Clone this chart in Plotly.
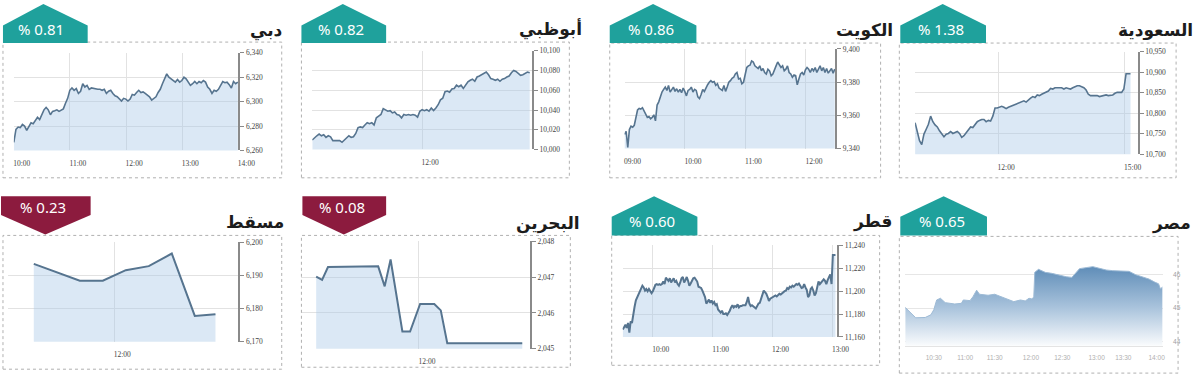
import plotly.graph_objects as go
import numpy as np

W, H = 1200, 382

# ---------------- DATA ----------------
# Dubai
dubai_values = [6266.7, 6277.3, 6279.2, 6278.7, 6281.3, 6280.0, 6276.5, 6279.2, 6282.7, 6281.9, 6284.5, 6287.2,
                6285.3, 6289.3, 6293.3, 6295.2, 6293.3, 6289.3, 6292.0, 6292.5, 6293.3, 6292.0, 6293.3, 6294.1,
                6298.7, 6302.7, 6309.3, 6311.2, 6309.3, 6310.7, 6306.7, 6308.5, 6314.7, 6312.0, 6313.3, 6310.1,
                6311.2, 6310.7, 6310.1, 6310.1, 6310.1, 6309.3, 6310.1, 6306.7, 6308.5, 6309.3, 6306.7, 6304.8,
                6304.0, 6302.1, 6300.5, 6302.7, 6302.1, 6300.5, 6302.1, 6305.9, 6305.3, 6307.5, 6309.3, 6307.5,
                6308.0, 6306.7, 6305.3, 6304.0, 6301.3, 6302.7, 6304.0, 6307.5, 6310.1, 6314.7, 6318.1, 6322.7,
                6320.0, 6318.7, 6317.3, 6316.0, 6318.1, 6316.0, 6317.3, 6320.0, 6318.7, 6316.0, 6313.3, 6314.7,
                6316.5, 6314.7, 6316.5, 6315.5, 6317.3, 6316.0, 6312.0, 6310.1, 6306.7, 6309.3, 6308.5, 6310.1,
                6313.3, 6316.5, 6315.5, 6316.0, 6313.9, 6311.2, 6316.5, 6314.7, 6316.0]
dubai_span = (10.0, 13.99)
dubai_xticks = [10, 11, 12, 13, 14]
dubai_xlabels = ["10:00", "11:00", "12:00", "13:00", "14:00"]
dubai_yticks = [6260, 6280, 6300, 6320, 6340]

# Abu Dhabi
abudhabi_values = [10009.6, 10012.3, 10013.9, 10015.6, 10013.9, 10014.9, 10012.3, 10013.9, 10012.9, 10009.0,
                   10009.0, 10008.3, 10009.0, 10007.3, 10009.6, 10012.3, 10013.9, 10012.3, 10012.9, 10016.3,
                   10022.2, 10022.9, 10022.2, 10024.9, 10027.2, 10026.2, 10027.2, 10024.9, 10032.1, 10033.8,
                   10035.5, 10041.4, 10040.4, 10038.8, 10039.4, 10037.1, 10038.1, 10035.5, 10034.8, 10032.1,
                   10035.5, 10034.8, 10035.5, 10034.8, 10035.5, 10034.8, 10032.8, 10038.8, 10040.4, 10039.4,
                   10040.4, 10038.8, 10042.1, 10039.4, 10042.1, 10045.4, 10050.3, 10052.0, 10058.6, 10059.3,
                   10058.0, 10061.3, 10061.9, 10065.2, 10063.6, 10065.2, 10061.9, 10065.9, 10068.6, 10070.2,
                   10071.2, 10069.2, 10073.5, 10074.5, 10075.8, 10076.8, 10078.5, 10075.8, 10071.9, 10071.2,
                   10070.2, 10071.2, 10069.2, 10071.2, 10071.9, 10073.5, 10074.5, 10077.8, 10080.1, 10079.1,
                   10076.8, 10075.2, 10075.8, 10076.8, 10078.5, 10077.8]
abudhabi_span = (10.0, 13.96)
abudhabi_xticks = [12]
abudhabi_xlabels = ["12:00"]
abudhabi_yticks = [10000, 10020, 10040, 10060, 10080, 10100]

# Kuwait
kuwait_values = [9348.5, 9350.4, 9340.6, 9351.4, 9353.4, 9352.8, 9354.0, 9358.3, 9363.2, 9364.2, 9363.8, 9364.6,
                 9362.6, 9360.7, 9358.7, 9359.3, 9357.9, 9358.7, 9360.3, 9356.7, 9366.2, 9368.1, 9371.1, 9374.0,
                 9375.6, 9377.0, 9375.0, 9378.0, 9374.0, 9375.6, 9377.0, 9374.4, 9376.0, 9374.0, 9375.6, 9373.6,
                 9376.4, 9374.4, 9371.7, 9375.0, 9375.6, 9377.0, 9374.0, 9375.6, 9375.0, 9371.1, 9370.1, 9372.5,
                 9375.6, 9374.4, 9377.0, 9378.4, 9379.9, 9380.9, 9379.9, 9380.3, 9378.0, 9379.0, 9376.4, 9375.6,
                 9375.0, 9378.0, 9374.4, 9377.0, 9379.9, 9380.9, 9382.3, 9382.9, 9384.9, 9385.8, 9381.9, 9382.3,
                 9379.0, 9379.9, 9383.9, 9388.8, 9389.8, 9390.2, 9392.7, 9392.1, 9389.8, 9388.8, 9388.2, 9389.8,
                 9386.8, 9388.2, 9385.8, 9384.9, 9387.8, 9386.8, 9383.9, 9384.9, 9387.8, 9389.8, 9392.1, 9390.8,
                 9388.8, 9389.8, 9386.8, 9387.8, 9389.8, 9385.8, 9384.9, 9382.9, 9384.3, 9383.9, 9378.4, 9381.9,
                 9384.9, 9385.8, 9384.3, 9387.4, 9388.8, 9387.8, 9385.8, 9388.2, 9386.8, 9388.8, 9385.8, 9387.8,
                 9389.8, 9386.8, 9388.8, 9385.8, 9388.2, 9385.4, 9386.8, 9388.2, 9385.4, 9387.8]
kuwait_span = (9.0, 12.476)
kuwait_xticks = [9, 10, 11, 12]
kuwait_xlabels = ["09:00", "10:00", "11:00", "12:00"]
kuwait_yticks = [9340, 9360, 9380, 9400]

# Saudi
saudi_values = [10777.3, 10757.4, 10733.5, 10723.9, 10749.4, 10761.3, 10773.3, 10793.2, 10779.7, 10771.7,
                10766.9, 10757.4, 10749.4, 10743.0, 10749.4, 10751.0, 10755.8, 10751.0, 10753.4, 10755.8,
                10751.0, 10741.4, 10745.4, 10753.4, 10761.3, 10766.9, 10765.3, 10771.7, 10779.7, 10782.8,
                10785.2, 10785.2, 10779.7, 10782.8, 10781.2, 10793.2, 10813.1, 10813.1, 10814.7, 10817.1,
                10814.7, 10811.5, 10814.7, 10817.1, 10819.5, 10821.0, 10822.6, 10825.0, 10829.0, 10830.6,
                10827.4, 10833.0, 10837.0, 10840.9, 10838.6, 10844.9, 10843.3, 10846.5, 10848.9, 10851.3,
                10854.5, 10860.8, 10859.3, 10862.4, 10862.4, 10860.8, 10862.4, 10859.3, 10862.4, 10860.8,
                10859.3, 10862.4, 10864.8, 10867.2, 10867.2, 10864.8, 10862.4, 10856.9, 10846.5, 10843.3,
                10843.3, 10842.5, 10843.3, 10840.9, 10842.5, 10843.3, 10844.9, 10843.3, 10843.3, 10844.9,
                10848.9, 10851.3, 10851.3, 10851.3, 10859.3, 10896.7, 10896.7, 10896.7]
saudi_span = (10.03, 15.14)
saudi_xticks = [12, 15]
saudi_xlabels = ["12:00", "15:00"]
saudi_yticks = [10700, 10750, 10800, 10850, 10900, 10950]

# Muscat
muscat_times = [10.25, 11.25, 11.75, 12.25, 12.75, 13.25, 13.75, 14.2]
muscat_values = [6193.5, 6188.4, 6188.4, 6191.6, 6192.8, 6196.6, 6177.8, 6178.3]
muscat_xticks = [12]
muscat_xlabels = ["12:00"]
muscat_yticks = [6170, 6180, 6190, 6200]

# Bahrain
bahrain_times = [10.26, 10.36, 10.46, 10.71, 10.82, 11.31, 11.42, 11.52, 11.72, 11.85, 12.02, 12.26, 12.37,
                 12.48, 13.75]
bahrain_values = [2047.01, 2046.92, 2047.28, 2047.28, 2047.30, 2047.30, 2046.74, 2047.49, 2045.48, 2045.48,
                  2046.25, 2046.25, 2046.07, 2045.15, 2045.15]
bahrain_xticks = [12]
bahrain_xlabels = ["12:00"]
bahrain_yticks = [2045, 2046, 2047, 2048]

# Qatar
qatar_values = [11166.5, 11169.3, 11170.7, 11167.9, 11172.2, 11163.7, 11173.6, 11172.2, 11180.6, 11186.3,
                11191.9, 11194.8, 11197.0, 11200.4, 11201.8, 11204.7, 11203.2, 11200.4, 11201.8, 11199.9,
                11201.8, 11200.4, 11198.2, 11199.9, 11203.2, 11205.5, 11206.1, 11205.5, 11206.1, 11205.5,
                11206.1, 11208.3, 11206.1, 11211.7, 11210.3, 11208.9, 11211.2, 11207.5, 11209.5, 11211.2,
                11207.5, 11208.9, 11206.1, 11204.7, 11207.5, 11211.2, 11212.3, 11207.5, 11209.5, 11212.3,
                11208.9, 11204.7, 11206.6, 11209.5, 11211.2, 11211.7, 11209.5, 11208.3, 11203.8, 11203.2,
                11202.7, 11200.4, 11198.2, 11194.8, 11189.1, 11190.5, 11192.5, 11189.7, 11191.9, 11189.1,
                11190.5, 11187.7, 11188.5, 11184.0, 11182.0, 11181.2, 11182.9, 11180.1, 11180.1, 11180.6,
                11179.2, 11180.6, 11182.9, 11185.7, 11187.7, 11185.7, 11186.9, 11186.3, 11188.5, 11185.7,
                11186.9, 11186.9, 11187.7, 11187.7, 11187.7, 11190.5, 11194.8, 11189.1, 11186.9, 11187.7,
                11186.9, 11186.3, 11184.9, 11186.9, 11189.1, 11189.7, 11193.4, 11197.0, 11200.4, 11199.0,
                11197.6, 11194.8, 11191.4, 11193.4, 11194.2, 11194.8, 11195.3, 11196.2, 11195.3, 11197.0,
                11197.6, 11197.0, 11198.2, 11199.0, 11199.9, 11200.4, 11202.7, 11201.8, 11203.8, 11203.2,
                11204.7, 11203.8, 11204.7, 11206.1, 11205.5, 11206.6, 11204.7, 11202.7, 11203.2, 11206.1,
                11203.2, 11201.0, 11194.8, 11196.2, 11201.8, 11203.2, 11200.4, 11196.2, 11198.2, 11204.7,
                11208.3, 11206.1, 11207.5, 11208.9, 11210.3, 11208.9, 11206.1, 11209.5, 11211.7, 11214.6,
                11206.1, 11231.5, 11231.5, 11231.5]
qatar_span = (9.5, 13.05)
qatar_xticks = [10, 11, 12, 13]
qatar_xlabels = ["10:00", "11:00", "12:00", "13:00"]
qatar_yticks = [11160, 11180, 11200, 11220, 11240]

# Egypt (minutes since open)
egypt_minutes = [0, 4, 11, 21, 27, 30, 33, 37, 42, 52, 59, 61, 68, 71, 75, 78, 87, 94, 101, 107, 114, 121,
                 126, 130, 133, 135, 136, 140, 147, 154, 163, 169, 175, 180, 183, 190, 197, 204, 211, 218, 228,
                 235, 242, 249, 256, 262, 266, 268, 270]
egypt_values = [45.02, 44.90, 44.71, 44.72, 44.80, 44.95, 45.24, 45.29, 45.16, 45.12, 45.14, 45.24, 45.22,
                45.33, 45.53, 45.41, 45.38, 45.41, 45.33, 45.26, 45.19, 45.24, 45.21, 45.29, 45.27, 45.33,
                46.06, 46.15, 46.06, 46.03, 45.96, 45.93, 45.91, 46.06, 46.17, 46.20, 46.23, 46.18, 46.13,
                46.11, 46.11, 46.09, 45.99, 45.93, 45.86, 45.77, 45.72, 45.57, 45.62]
egypt_xticks = [30, 63, 94, 132, 165, 201, 229, 264]
egypt_xlabels = ["10:30", "11:00", "11:30", "12:00", "12:30", "13:00", "13:30", "14:00"]
egypt_yticks = [44, 45, 46]

# ---------------- STYLE ----------------
TEAL = "#1fa19c"
MAROON = "#8c1b3e"
LINE = "#56748f"
FILL = "rgba(170,200,230,0.42)"
GRID = "#e2e2e2"
AXIS = "#8a8a8a"
TICKFONT = dict(family="Liberation Serif", size=7.5, color="#444444")


def X(p):
    return p / W


def Y(p):
    return 1 - p / H


panels = [
    dict(title="دبي", change="% 0.81", up=True,
         x=list(np.linspace(*dubai_span, len(dubai_values))), y=dubai_values,
         xdom=(13, 241), ydom=(50, 150), xr=[10, 14], yr=[6260, 6340],
         xt=dubai_xticks, xl=dubai_xlabels, yt=dubai_yticks,
         box=(2, 39, 285, 178), badge=(2, 43, 88), row=0, tpos=(270, 27)),
    dict(title="أبوظبي", change="% 0.82", up=True,
         x=list(np.linspace(*abudhabi_span, len(abudhabi_values))), y=abudhabi_values,
         xdom=(316, 539), ydom=(48, 149), xr=[10, 14], yr=[10000, 10100],
         xt=abudhabi_xticks, xl=abudhabi_xlabels, yt=abudhabi_yticks,
         box=(305, 39, 577, 178), badge=(305, 347, 391), row=0, tpos=(558, 26)),
    dict(title="الكويت", change="% 0.86", up=True,
         x=list(np.linspace(*kuwait_span, len(kuwait_values))), y=kuwait_values,
         xdom=(633, 847), ydom=(46, 148), xr=[9, 12.485], yr=[9340, 9400],
         xt=kuwait_xticks, xl=kuwait_xlabels, yt=kuwait_yticks,
         box=(618, 40, 893, 178), badge=(618, 662, 706), row=0, tpos=(877, 27)),
    dict(title="السعودية", change="% 1.38", up=True,
         x=list(np.linspace(*saudi_span, len(saudi_values))), y=saudi_values,
         xdom=(928, 1154), ydom=(49, 154), xr=[10.03, 15.31], yr=[10700, 10950],
         xt=saudi_xticks, xl=saudi_xlabels, yt=saudi_yticks,
         box=(912, 40, 1193, 178), badge=(913, 956, 1000), row=0, tpos=(1172, 27)),
    dict(title="مسقط", change="% 0.23", up=False,
         x=muscat_times, y=muscat_values,
         xdom=(7, 241), ydom=(244, 346), xr=[9.687, 14.698], yr=[6170, 6200],
         xt=muscat_xticks, xl=muscat_xlabels, yt=muscat_yticks,
         box=(2, 237, 285, 374), badge=(0, 45, 91), row=1, tpos=(258, 223)),
    dict(title="البحرين", change="% 0.08", up=False,
         x=bahrain_times, y=bahrain_values,
         xdom=(305, 537), ydom=(243, 353), xr=[10.01, 13.88], yr=[2045, 2048],
         xt=bahrain_xticks, xl=bahrain_xlabels, yt=bahrain_yticks,
         box=(305, 237, 578, 372), badge=(306, 348, 391), row=1, tpos=(555, 225)),
    dict(title="قطر", change="% 0.60", up=True,
         x=list(np.linspace(*qatar_span, len(qatar_values))), y=qatar_values,
         xdom=(631, 849), ydom=(247, 341), xr=[9.495, 13.08], yr=[11160, 11240],
         xt=qatar_xticks, xl=qatar_xlabels, yt=qatar_yticks,
         box=(620, 237, 892, 370), badge=(620, 663, 707), row=1, tpos=(885, 223)),
    dict(title="مصر", change="% 0.65", up=True, egypt=True,
         x=egypt_minutes, y=egypt_values,
         xdom=(918, 1180), ydom=(240, 350), xr=[0, 271], yr=[43.88, 47.07],
         xt=egypt_xticks, xl=egypt_xlabels, yt=egypt_yticks,
         box=(912, 238, 1195, 378), badge=(913, 957, 1001), row=1, tpos=(1188, 225)),
]

fig = go.Figure()
shapes = []
annotations = []
layout_axes = {}

for i, p in enumerate(panels, start=1):
    xa = "x" if i == 1 else f"x{i}"
    ya = "y" if i == 1 else f"y{i}"
    egypt = p.get("egypt", False)
    if egypt:
        fig.add_trace(go.Scatter(
            x=p["x"], y=p["y"], xaxis=xa, yaxis=ya, mode="lines",
            line=dict(color="#9dbad5", width=1), fill="tozeroy",
            fillgradient=dict(type="vertical", start=43.88, stop=46.25,
                              colorscale=[[0, "rgba(255,255,255,1)"], [0.5, "#a9c3dc"], [1, "#5f8db8"]]),
            hoverinfo="skip"))
    else:
        fig.add_trace(go.Scatter(
            x=p["x"], y=p["y"], xaxis=xa, yaxis=ya, mode="lines",
            line=dict(color=LINE, width=1.6 if p["row"] == 0 else 2),
            fill="tozeroy", fillcolor=FILL, hoverinfo="skip"))

    xk = "xaxis" if i == 1 else f"xaxis{i}"
    yk = "yaxis" if i == 1 else f"yaxis{i}"
    x0, x1 = p["xdom"]
    yt_, yb_ = p["ydom"]
    if egypt:
        layout_axes[xk] = dict(domain=[X(x0), X(x1)], anchor=ya, range=p["xr"],
                               tickvals=p["xt"], ticktext=p["xl"], showgrid=False, zeroline=False,
                               showline=True, linecolor="#e4e4e4", linewidth=1, ticks="",
                               ticklabelstandoff=5,
                               tickfont=dict(family="Liberation Sans", size=6.5, color="#b0b0b0"),
                               fixedrange=True)
        layout_axes[yk] = dict(domain=[Y(yb_), Y(yt_)], anchor=xa, range=p["yr"], side="right",
                               tickvals=p["yt"], ticktext=[str(v) for v in p["yt"]],
                               showgrid=True, gridcolor="#e6e6e6", zeroline=False, showline=False,
                               ticks="", ticklabelposition="inside", ticklabelstandoff=-20,
                               tickfont=dict(family="Liberation Sans", size=6.5, color="#a0a0a0"),
                               fixedrange=True)
    else:
        layout_axes[xk] = dict(domain=[X(x0), X(x1)], anchor=ya, range=p["xr"],
                               tickvals=p["xt"], ticktext=p["xl"], showgrid=True, gridcolor=GRID,
                               gridwidth=1, zeroline=False, showline=False, ticks="",
                               ticklabelshift=8, ticklabelstandoff=7,
                               tickfont=TICKFONT, fixedrange=True)
        layout_axes[yk] = dict(domain=[Y(yb_), Y(yt_)], anchor=xa, range=p["yr"], side="right",
                               tickvals=p["yt"], tickformat=",d", showgrid=True, gridcolor=GRID,
                               zeroline=False, showline=True, linecolor=AXIS, linewidth=2,
                               ticks="outside", ticklen=4, tickcolor=AXIS, tickwidth=1,
                               tickfont=TICKFONT, fixedrange=True)

    # dotted frame
    bx0, by0, bx1, by1 = p["box"]
    shapes.append(dict(type="rect", xref="paper", yref="paper", x0=X(bx0), x1=X(bx1), y0=Y(by1), y1=Y(by0),
                       line=dict(color="#b0b0b0", width=1, dash="dot"), layer="above"))

    # badge
    a, m, b = p["badge"]
    if p["up"]:
        if p["row"] == 0:
            ytop, ysh, ybot, ytext = 0, 22, 40, 26
        else:
            ytop, ysh, ybot, ytext = 197, 218, 237, 222
        path = (f"M {X(a)},{Y(ybot)} L {X(a)},{Y(ysh)} L {X(m)},{Y(ytop)} "
                f"L {X(b)},{Y(ysh)} L {X(b)},{Y(ybot)} Z")
        color = TEAL
    else:
        ytop, ysh, ypt, ytext = 197, 216, 236, 208
        path = (f"M {X(a)},{Y(ytop)} L {X(b)},{Y(ytop)} L {X(b)},{Y(ysh)} "
                f"L {X(m)},{Y(ypt)} L {X(a)},{Y(ysh)} Z")
        color = MAROON
    shapes.append(dict(type="path", xref="paper", yref="paper", path=path,
                       fillcolor=color, line=dict(width=0), layer="above"))
    annotations.append(dict(xref="paper", yref="paper", x=X(m - 2), y=Y(ytext), text=p["change"],
                            showarrow=False, xanchor="center", yanchor="middle",
                            font=dict(family="Noto Sans", size=15, color="white")))
    # title
    tx, ty = p["tpos"]
    annotations.append(dict(xref="paper", yref="paper", x=X(tx), y=Y(ty), text=f"<b>{p['title']}</b>",
                            showarrow=False, xanchor="center", yanchor="middle",
                            font=dict(family="DejaVu Sans", size=17, color="#1c1c1c")))

fig.update_layout(
    width=W, height=H, margin=dict(l=0, r=0, t=0, b=0),
    paper_bgcolor="white", plot_bgcolor="white", showlegend=False,
    shapes=shapes, annotations=annotations, **layout_axes)

fig.write_html("out.html", config={"displayModeBar": False},
               post_script="document.body.style.margin='0px';")
